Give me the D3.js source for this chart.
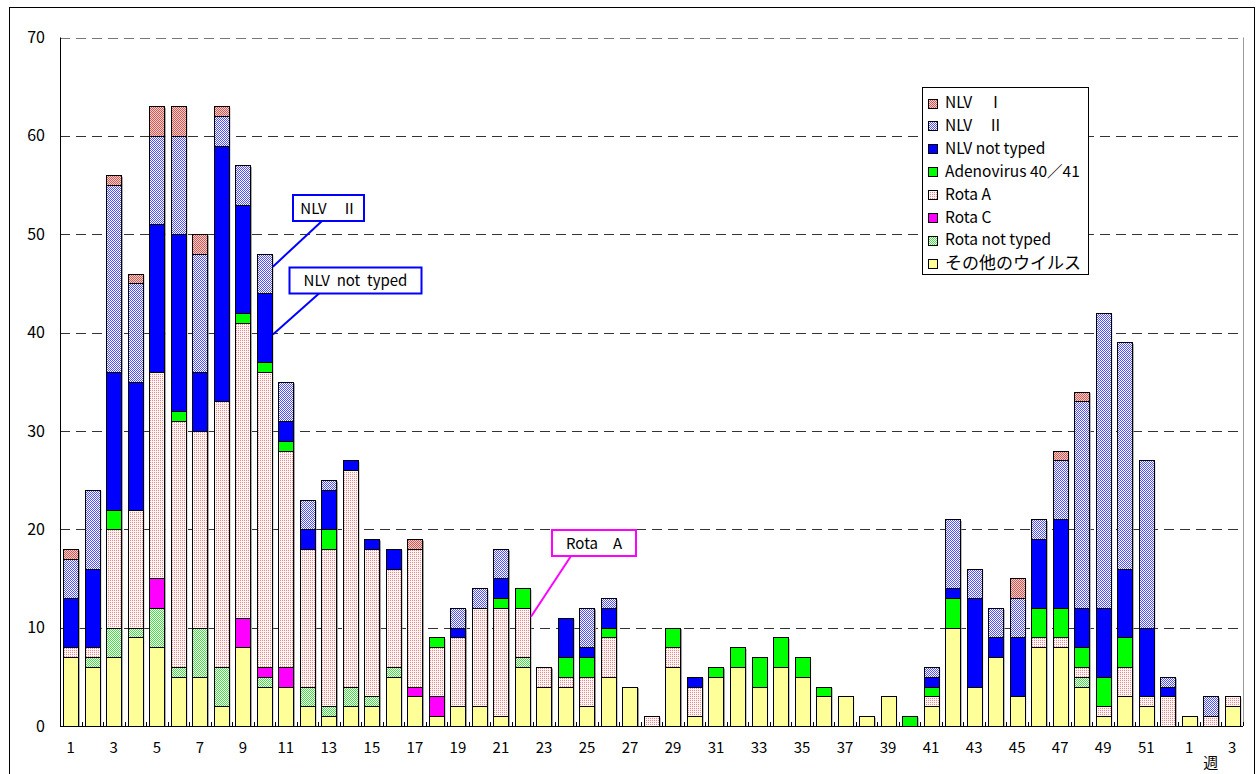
<!DOCTYPE html>
<html><head><meta charset="utf-8">
<script src="https://cdn.jsdelivr.net/npm/d3@7/dist/d3.min.js"></script>
<style>
html,body{margin:0;padding:0;background:#fff;}
svg{display:block;font-family:"Noto Sans CJK JP","Noto Sans",sans-serif;}
</style></head>
<body>
<svg id="chart" width="1257" height="774"></svg>
<script>
// ---- data ----
const weeks = ["1","2","3","4","5","6","7","8","9","10","11","12","13","14","15","16","17","18","19","20","21","22","23","24","25","26","27","28","29","30","31","32","33","34","35","36","37","38","39","40","41","42","43","44","45","46","47","48","49","50","51","52","1","2","3"];
const seriesNames = ["その他のウイルス","Rota not typed","Rota C","Rota A","Adenovirus 40／41","NLV not typed","NLV　Ⅱ","NLV　Ⅰ"];
const other   = [7,6,7,9,8,5,5,2,8,4,4,2,1,2,2,5,3,1,2,2,1,6,4,4,2,5,4,0,6,1,5,6,4,6,5,3,3,1,3,0,2,10,4,7,3,8,8,4,1,3,2,0,1,0,2];
const rotaNT  = [0,1,3,1,4,1,5,4,0,1,0,2,1,2,1,1,0,0,0,0,0,1,0,0,0,0,0,0,0,0,0,0,0,0,0,0,0,0,0,0,0,0,0,0,0,0,0,1,0,0,0,0,0,0,0];
const rotaC   = [0,0,0,0,3,0,0,0,3,1,2,0,0,0,0,0,1,2,0,0,0,0,0,0,0,0,0,0,0,0,0,0,0,0,0,0,0,0,0,0,0,0,0,0,0,0,0,0,0,0,0,0,0,0,0];
const rotaA   = [1,1,10,12,21,25,20,27,30,30,22,14,16,22,15,10,14,5,7,10,11,5,2,1,3,4,0,1,2,3,0,0,0,0,0,0,0,0,0,0,1,0,0,0,0,1,1,1,1,3,1,3,0,1,1];
const adeno   = [0,0,2,0,0,1,0,0,1,1,1,0,2,0,0,0,0,1,0,0,1,2,0,2,2,1,0,0,2,0,1,2,3,3,2,1,0,0,0,1,1,3,0,0,0,3,3,2,3,3,0,0,0,0,0];
const nlvNT   = [5,8,14,13,15,18,6,26,11,7,2,2,4,1,1,2,0,0,1,0,2,0,0,4,1,2,0,0,0,1,0,0,0,0,0,0,0,0,0,0,1,1,9,2,6,7,9,4,7,7,7,1,0,0,0];
const nlvII   = [4,8,19,10,9,10,12,3,4,4,4,3,1,0,0,0,0,0,2,2,3,0,0,0,4,1,0,0,0,0,0,0,0,0,0,0,0,0,0,0,1,7,3,3,4,2,6,21,30,23,17,1,0,2,0];
const nlvI    = [1,0,1,1,3,3,2,1,0,0,0,0,0,0,0,0,1,0,0,0,0,0,0,0,0,0,0,0,0,0,0,0,0,0,0,0,0,0,0,0,0,0,0,0,2,0,1,1,0,0,0,0,0,0,0];
const yTicks  = [0,10,20,30,40,50,60,70];
const weekWord = "週";
const notes = [
  {text:"NLV　Ⅱ", bar:9, value:46.7, color:"#0000FF"},
  {text:"NLV  not  typed", bar:9, value:39.8, color:"#0000FF"},
  {text:"Rota　A", bar:21, value:11.1, color:"#FF00FF"}
];

// ---- styles ----
const fills = ["#FFFF99","url(#pRotaNT)","#FF00FF","url(#pRotaA)","#00FF00","#0000FF","url(#pNLV2)","url(#pNLV1)"];
const seriesData = [other,rotaNT,rotaC,rotaA,adeno,nlvNT,nlvII,nlvI];

const svg = d3.select("#chart");
const defs = svg.append("defs");
function checker(id, bg, fg, cells){
  const p = defs.append("pattern").attr("id",id).attr("patternUnits","userSpaceOnUse")
    .attr("width",2).attr("height",2);
  p.append("rect").attr("width",2).attr("height",2).attr("fill",bg);
  cells.forEach(c=>p.append("rect").attr("x",c[0]).attr("y",c[1]).attr("width",1).attr("height",1).attr("fill",fg));
}
checker("pNLV1","#F6D0C8","#D05A5A",[[0,0],[1,1]]);
checker("pNLV2","#FFFFFF","#5050FF",[[0,0],[1,1]]);
checker("pRotaA","#FFF4F4","#E88888",[[0,0]]);
checker("pRotaNT","#FFFFFF","#44E044",[[0,0],[1,1]]);

// outer frame
svg.append("rect").attr("x",9.5).attr("y",7.5).attr("width",1245).attr("height",800)
  .attr("fill","none").attr("stroke","#000").attr("stroke-width",1);

const L=60, R=1243, T=37.5, B=726;
const x = d3.scaleBand().domain(d3.range(weeks.length)).range([L,R]).paddingInner(0.3).paddingOuter(0.15);
const y = d3.scaleLinear().domain([0,70]).range([B,T]);

// gridlines
svg.append("g").selectAll("line").data(yTicks.filter(d=>d>0)).join("line")
  .attr("x1",L).attr("x2",R).attr("y1",d=>Math.round(y(d))+0.5).attr("y2",d=>Math.round(y(d))+0.5)
  .attr("stroke",d=>d===70?"#777":"#333").attr("stroke-width",1).attr("stroke-dasharray","10,6");
// right plot edge
svg.append("line").attr("x1",R+0.5).attr("x2",R+0.5).attr("y1",T).attr("y2",B).attr("stroke","#999");

// stacked data
const keys = d3.range(seriesData.length);
const rows = weeks.map((w,i)=>{const o={i}; keys.forEach(k=>o[k]=seriesData[k][i]); return o;});
const stacked = d3.stack().keys(keys)(rows);
const totals = rows.map(r=>d3.sum(keys,k=>r[k]));

// shadows
svg.append("g").selectAll("rect").data(rows.filter((r,i)=>totals[i]>0)).join("rect")
  .attr("x",d=>x(d.i)+1.5).attr("width",x.bandwidth())
  .attr("y",d=>y(totals[d.i])+1.5).attr("height",d=>B-y(totals[d.i])-1.5)
  .attr("fill","#9a9a9a");

// bars
const g = svg.append("g");
stacked.forEach((s,k)=>{
  g.append("g").selectAll("rect").data(s.filter(d=>d[1]>d[0])).join("rect")
    .attr("x",d=>Math.round(x(d.data.i))+0.5)
    .attr("width",Math.round(x.bandwidth()))
    .attr("y",d=>Math.round(y(d[1]))+0.5)
    .attr("height",d=>Math.round(y(d[0]))-Math.round(y(d[1])))
    .attr("fill",fills[k]).attr("stroke","#000").attr("stroke-width",1);
});

// axes
const yAxis = d3.axisLeft(y).tickValues(yTicks).tickSize(0).tickPadding(15).tickFormat(d3.format("d"));
const ya = svg.append("g").attr("transform",`translate(${L},0)`).call(yAxis);
ya.select(".domain").remove();
ya.selectAll("text").attr("font-size",16).attr("font-family","Noto Sans CJK JP").attr("fill","#000");
svg.append("line").attr("x1",L+0.5).attr("x2",L+0.5).attr("y1",T).attr("y2",B).attr("stroke","#000");

const xAxis = d3.axisBottom(x).tickValues(d3.range(0,weeks.length,2)).tickSize(0).tickPadding(16)
  .tickFormat(i=>weeks[i]);
const xa = svg.append("g").attr("transform",`translate(0,${B})`).call(xAxis);
xa.select(".domain").remove();
xa.selectAll("text").attr("font-size",15).attr("font-family","Noto Sans CJK JP").attr("fill","#000");
svg.append("line").attr("x1",L).attr("x2",R).attr("y1",B+0.5).attr("y2",B+0.5).attr("stroke","#000");
// small inward ticks at band boundaries
const step = x.step();
svg.append("g").selectAll("line").data(d3.range(weeks.length+1)).join("line")
  .attr("x1",i=>Math.round(x(Math.min(i,weeks.length-1)) - (i<weeks.length ? step*x.paddingInner()/2 : -x.bandwidth()-step*x.paddingInner()/2))+0.5)
  .attr("x2",i=>Math.round(x(Math.min(i,weeks.length-1)) - (i<weeks.length ? step*x.paddingInner()/2 : -x.bandwidth()-step*x.paddingInner()/2))+0.5)
  .attr("y1",B).attr("y2",B-4).attr("stroke","#000");
svg.append("text").attr("x",x(53)+x.bandwidth()/2).attr("y",B+42).attr("text-anchor","middle")
  .attr("font-family","Noto Sans CJK JP").attr("font-size",15).text(weekWord);

// annotations
const noteBoxes = [
  {x:293,y:195,w:71,h:26,lx:322},
  {x:289.5,y:267.5,w:132,h:26,lx:319},
  {x:552,y:530,w:84,h:26,lx:571}
];
notes.forEach((n,i)=>{
  const b = noteBoxes[i];
  svg.append("line").attr("x1",b.lx).attr("y1",b.y+b.h).attr("x2",x(n.bar)+x.bandwidth()+1).attr("y2",y(n.value))
    .attr("stroke",n.color).attr("stroke-width",2);
  svg.append("rect").attr("x",b.x).attr("y",b.y).attr("width",b.w).attr("height",b.h)
    .attr("fill","#fff").attr("stroke",n.color).attr("stroke-width",2);
  svg.append("text").attr("x",b.x+b.w/2).attr("y",b.y+b.h/2+5.5).attr("text-anchor","middle")
    .attr("font-size",15).style("white-space","pre").text(n.text);
});

// legend
const lg = svg.append("g");
lg.append("rect").attr("x",922.5).attr("y",87.5).attr("width",166).attr("height",187)
  .attr("fill","#fff").attr("stroke","#000");
const legendOrder = d3.range(seriesNames.length).reverse();
legendOrder.forEach((k,j)=>{
  const cy = 102.5 + j*22.9;
  lg.append("rect").attr("x",928.5).attr("y",Math.round(cy-4)+0.5).attr("width",9).attr("height",9)
    .attr("fill",fills[k]).attr("stroke","#000");
  const t = lg.append("text").attr("x",945).attr("y",cy+5.5).style("white-space","pre").text(seriesNames[k]);
  if (k===0) t.attr("font-size",17).attr("y",cy+6.5);
  else t.attr("font-size",15.5);
});
</script>
</body></html>
